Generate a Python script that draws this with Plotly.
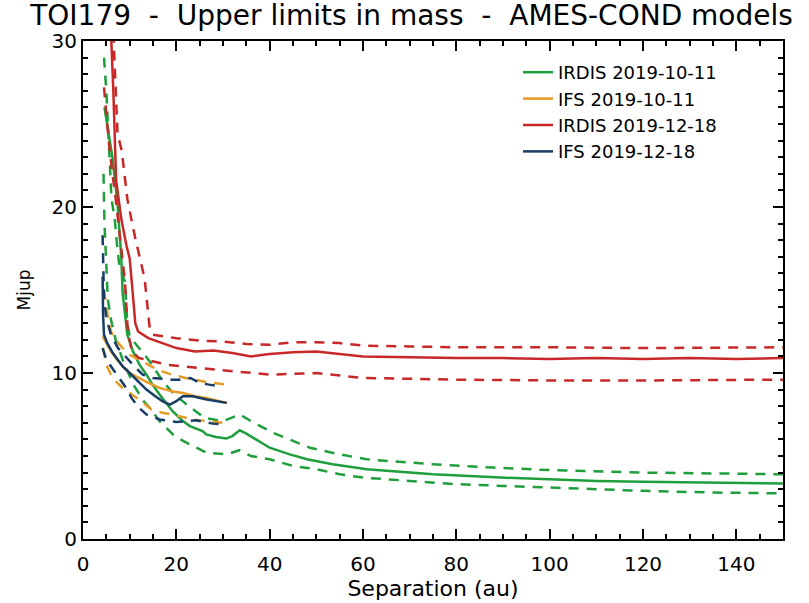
import plotly.graph_objects as go

# ---------------- data ----------------
# IRDIS 2019-10-11 (green)
g_x = [4.6, 5.5, 6.3, 7.4, 8.2, 8.5, 9.5, 10.7, 12.1, 13.6, 14.9, 16.4, 18.6, 19.2, 21.4, 22.9, 25.6, 26.4,
       28.5, 30.7, 32.0, 33.6, 35.0, 36.4, 40.0, 44.3, 48.0, 53.5, 60.8, 75.0, 89.4, 100.0, 110.0, 120.0,
       135.0, 150.0]
g_y = [26.0, 24.5, 23.0, 20.2, 17.0, 14.8, 12.3, 11.3, 10.5, 9.9, 9.3, 8.7, 7.9, 7.7, 7.1, 6.8, 6.5, 6.3,
       6.15, 6.05, 6.2, 6.55, 6.35, 6.1, 5.5, 5.1, 4.8, 4.5, 4.2, 3.9, 3.7, 3.6, 3.5, 3.45, 3.4, 3.35]
g_up_x = [4.5, 5.0, 6.1, 6.8, 7.2, 7.8, 9.0, 9.5, 10.0, 12.0, 14.3, 17.1, 19.6, 22.9, 26.0, 30.0, 33.6,
          36.0, 40.7, 48.6, 55.0, 60.8, 75.0, 88.0, 100.0, 120.0, 150.0]
g_up_y = [29.0, 27.0, 20.5, 19.3, 18.0, 16.4, 15.5, 13.0, 12.2, 11.5, 10.7, 9.5, 8.7, 7.95, 7.3, 7.1, 7.5,
          7.1, 6.4, 5.5, 5.1, 4.8, 4.5, 4.3, 4.15, 4.0, 3.9]
g_lo_x = [4.4, 4.6, 5.0, 5.3, 6.0, 7.0, 8.5, 10.8, 13.0, 14.3, 16.4, 19.6, 22.9, 26.5, 30.8, 33.5, 36.0,
          40.0, 45.0, 50.0, 55.0, 60.0, 70.0, 80.0, 90.0, 100.0, 110.0, 120.0, 135.0, 150.0]
g_lo_y = [22.0, 19.0, 16.5, 14.5, 13.2, 12.0, 10.8, 9.3, 8.3, 7.9, 7.1, 6.2, 5.7, 5.2, 5.1, 5.35, 5.0,
          4.8, 4.4, 4.2, 3.9, 3.7, 3.5, 3.3, 3.2, 3.1, 3.0, 2.9, 2.8, 2.75]

# IFS 2019-10-11 (orange)
o_x = [4.2, 5.0, 6.0, 7.0, 8.5, 10.0, 12.0, 14.0, 16.4, 19.0, 21.4, 24.0, 26.4, 28.5, 30.8]
o_y = [12.2, 11.8, 11.3, 10.9, 10.4, 10.0, 9.7, 9.4, 9.1, 8.9, 8.8, 8.6, 8.5, 8.35, 8.2]
o_up_x = [4.5, 5.3, 6.0, 7.0, 8.5, 10.0, 12.0, 14.0, 16.0, 19.0, 22.0, 26.5, 30.8]
o_up_y = [15.0, 13.5, 12.5, 12.0, 11.5, 11.1, 10.8, 10.5, 10.2, 9.9, 9.7, 9.45, 9.3]
o_lo_x = [4.3, 5.0, 6.0, 7.0, 8.5, 10.5, 12.5, 14.7, 17.0, 19.2, 23.5, 26.5, 30.0]
o_lo_y = [11.5, 10.5, 9.9, 9.5, 9.1, 8.7, 8.3, 7.8, 7.6, 7.5, 7.2, 7.1, 7.0]

# IRDIS 2019-12-18 (red)
r_x = [6.0, 6.5, 7.1, 8.2, 9.3, 10.0, 10.6, 11.2, 11.8, 14.0, 17.0, 20.0, 24.0, 28.0, 32.0, 36.0, 40.0,
       45.0, 50.0, 55.0, 60.0, 70.0, 80.0, 90.0, 100.0, 110.0, 120.0, 130.0, 140.0, 150.0]
r_y = [30.5, 27.0, 21.6, 19.3, 17.7, 16.9, 15.0, 13.0, 12.5, 12.1, 11.8, 11.5, 11.3, 11.35, 11.2, 11.0,
       11.15, 11.25, 11.3, 11.15, 11.0, 10.95, 10.9, 10.9, 10.85, 10.9, 10.85, 10.9, 10.85, 10.9]
r_up_x = [6.5, 7.4, 8.3, 9.5, 10.4, 11.3, 13.2, 14.3, 15.0, 20.0, 25.0, 30.0, 35.0, 40.0, 45.0, 50.0,
          55.0, 60.0, 70.0, 80.0, 100.0, 120.0, 150.0]
r_up_y = [30.5, 24.4, 23.4, 20.5, 19.2, 18.0, 15.7, 12.7, 12.3, 12.1, 11.95, 11.9, 11.75, 11.7, 11.85,
          11.85, 11.8, 11.65, 11.6, 11.55, 11.55, 11.5, 11.55]
r_lo_x = [4.5, 5.5, 6.3, 7.0, 8.0, 9.0, 9.6, 10.5, 12.0, 15.0, 18.0, 25.0, 33.0, 40.0, 50.0, 60.0, 80.0,
          100.0, 120.0, 150.0]
r_lo_y = [27.2, 24.0, 22.0, 20.5, 18.0, 15.5, 12.5, 11.3, 10.9, 10.7, 10.5, 10.3, 10.1, 9.9, 10.0, 9.7,
          9.6, 9.55, 9.55, 9.6]

# IFS 2019-12-18 (blue)
b_x = [4.2, 4.25, 4.3, 4.5, 5.2, 6.4, 8.5, 10.0, 11.4, 13.6, 15.5, 17.0, 18.6, 20.0, 21.4, 23.5, 26.5,
       28.5, 30.8]
b_y = [15.8, 14.5, 13.5, 12.3, 11.8, 11.2, 10.4, 10.0, 9.6, 9.0, 8.6, 8.3, 8.1, 8.3, 8.6, 8.6, 8.4, 8.3,
       8.2]
b_up_x = [4.2, 4.3, 4.5, 5.0, 6.0, 7.5, 9.0, 11.0, 12.8, 15.0, 19.2, 21.4, 23.0, 25.0, 27.0, 29.5]
b_up_y = [18.3, 16.5, 14.5, 13.3, 12.3, 11.5, 11.0, 10.4, 9.9, 9.7, 9.6, 9.6, 9.7, 9.4, 9.3, 9.2]
b_lo_x = [4.2, 5.0, 6.5, 8.0, 9.0, 10.4, 12.0, 13.6, 16.4, 20.0, 24.3, 27.8, 30.0]
b_lo_y = [11.5, 10.8, 10.2, 9.6, 9.2, 8.5, 7.9, 7.5, 7.2, 7.05, 7.15, 6.95, 6.9]

labels = ["IRDIS 2019-10-11", "IFS 2019-10-11", "IRDIS 2019-12-18", "IFS 2019-12-18"]
colors = ["#1f9e3c", "#e69b25", "#c82828", "#173d66"]

series = [
    (g_x, g_y, g_up_x, g_up_y, g_lo_x, g_lo_y),
    (o_x, o_y, o_up_x, o_up_y, o_lo_x, o_lo_y),
    (r_x, r_y, r_up_x, r_up_y, r_lo_x, r_lo_y),
    (b_x, b_y, b_up_x, b_up_y, b_lo_x, b_lo_y),
]

FONT = "DejaVu Sans"
fig = go.Figure()
for (sx, sy, ux, uy, lx, ly), lab, col in zip(series, labels, colors):
    fig.add_trace(go.Scatter(x=ux, y=uy, mode="lines", showlegend=False, hoverinfo="skip",
                             line=dict(color=col, width=2.5, dash="10px,8px")))
    fig.add_trace(go.Scatter(x=lx, y=ly, mode="lines", showlegend=False, hoverinfo="skip",
                             line=dict(color=col, width=2.5, dash="10px,8px")))
    fig.add_trace(go.Scatter(x=sx, y=sy, mode="lines", name=lab,
                             line=dict(color=col, width=2.5)))

axis_common = dict(
    showline=True, linecolor="black", linewidth=2, mirror="allticks",
    ticks="inside", tickcolor="black", tickwidth=2, ticklen=10,
    showgrid=False, zeroline=False, automargin=False,
    tickfont=dict(family=FONT, size=20, color="black"),
)

NB = "\u00a0"
title_text = f"TOI179{NB}{NB}-{NB}{NB}Upper limits in mass{NB}{NB}-{NB}{NB}AMES-COND models"

fig.update_layout(
    width=809, height=603,
    margin=dict(l=83, r=26, t=41, b=64, autoexpand=False),
    paper_bgcolor="white", plot_bgcolor="white",
    title=dict(text=title_text, automargin=False,
               font=dict(family=FONT, size=28, color="black"),
               x=0.5087, xanchor="center", xref="container",
               y=0.975, yanchor="middle", yref="container"),
    xaxis=dict(range=[0, 150], tickmode="linear", tick0=0, dtick=20,
               minor=dict(dtick=5, ticklen=5, tickwidth=1.5, tickcolor="black", ticks="inside"),
               ticklabelstandoff=6,
               title=dict(text="Separation (au)", font=dict(family=FONT, size=22, color="black"),
                          standoff=4),
               **axis_common),
    yaxis=dict(range=[0, 30], tickmode="linear", tick0=0, dtick=10,
               minor=dict(dtick=1, ticklen=5, tickwidth=1.5, tickcolor="black", ticks="inside"),
               title=dict(text="Mjup", font=dict(family=FONT, size=17, color="black"),
                          standoff=17),
               **axis_common),
    legend=dict(x=(518 - 83) / 700, y=1 - (54 - 41) / 498, xanchor="left", yanchor="top",
                bgcolor="rgba(0,0,0,0)", borderwidth=0,
                font=dict(family=FONT, size=18, color="black")),
)

fig.write_html("out.html", config={"displayModeBar": False},
               post_script="document.body.style.margin='0';")
